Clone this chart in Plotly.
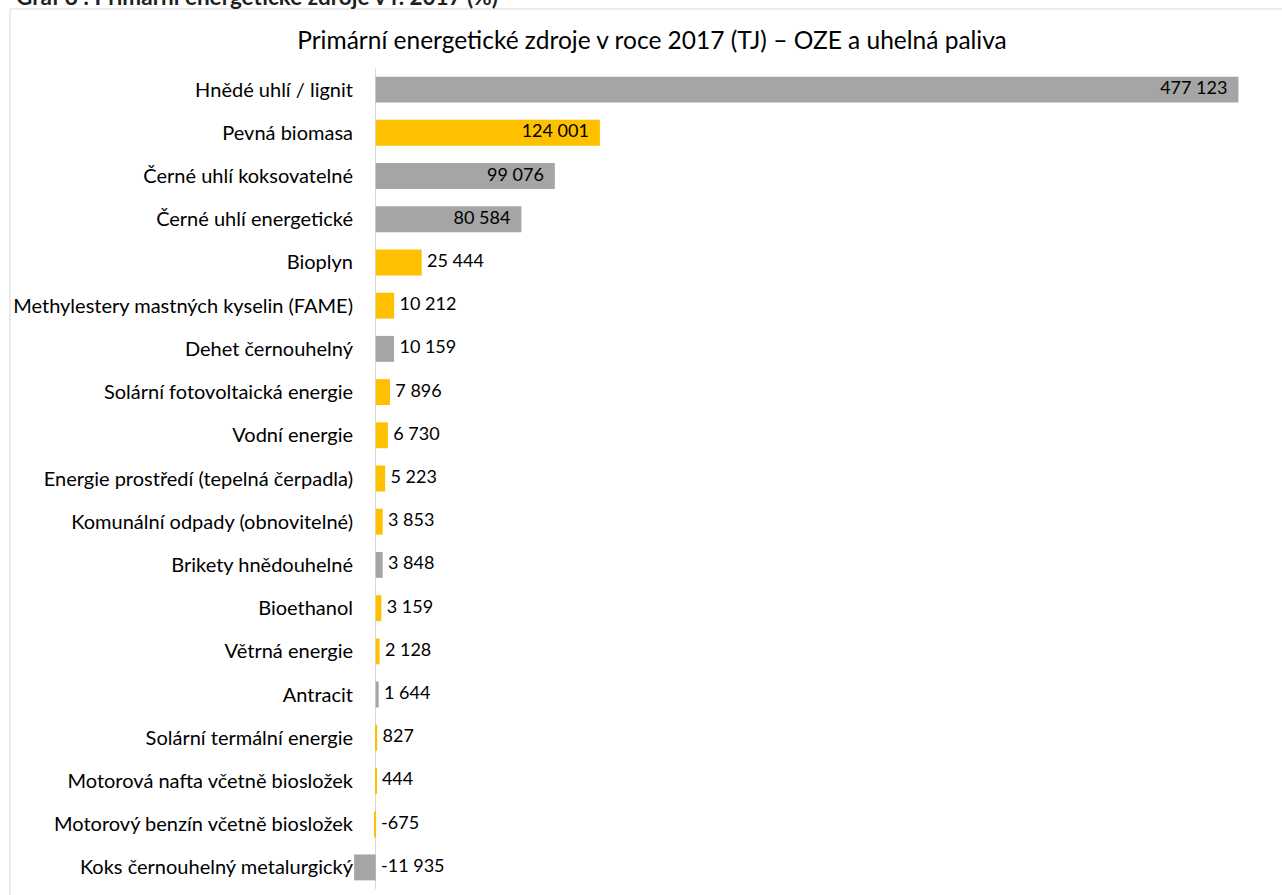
import plotly.graph_objects as go

categories = [
    "Hnědé uhlí / lignit",
    "Pevná biomasa",
    "Černé uhlí koksovatelné",
    "Černé uhlí energetické",
    "Bioplyn",
    "Methylestery mastných kyselin (FAME)",
    "Dehet černouhelný",
    "Solární fotovoltaická energie",
    "Vodní energie",
    "Energie prostředí (tepelná čerpadla)",
    "Komunální odpady (obnovitelné)",
    "Brikety hnědouhelné",
    "Bioethanol",
    "Větrná energie",
    "Antracit",
    "Solární termální energie",
    "Motorová nafta včetně biosložek",
    "Motorový benzín včetně biosložek",
    "Koks černouhelný metalurgický",
]
values = [477123, 124001, 99076, 80584, 25444, 10212, 10159, 7896, 6730, 5223,
          3853, 3848, 3159, 2128, 1644, 827, 444, -675, -11935]
groups = ["uhli", "oze", "uhli", "uhli", "oze", "oze", "uhli", "oze", "oze", "oze",
          "oze", "uhli", "oze", "oze", "uhli", "oze", "oze", "oze", "uhli"]
colors_map = {"uhli": "#A5A5A5", "oze": "#FFC000"}
inside_threshold = 50000

title = "Primární energetické zdroje v roce 2017 (TJ) – OZE a uhelná paliva"
caption = "Graf 8 : Primární energetické zdroje v r. 2017 (%)"

FONT = "Lato"
LBL = 20
VAL = 18

def fmt(v):
    s = f"{abs(v):,}".replace(",", " ")
    return ("-" if v < 0 else "") + s

labels = [fmt(v) for v in values]
colors = [colors_map[g] for g in groups]

W, H = 1282, 895
L, R, T, B = 354, 1240, 68, 889
pw, ph = R - L, B - T

def px_x(p):
    return (p - L) / pw

def px_y(p):
    return (B - p) / ph

fig = go.Figure()
fig.add_trace(go.Bar(
    y=categories, x=values, orientation="h",
    marker=dict(color=colors, line=dict(width=0)),
    width=0.6, hoverinfo="skip", showlegend=False,
))
ins = [v > inside_threshold for v in values]
fig.add_trace(go.Scatter(
    x=[v for v, i in zip(values, ins) if i],
    y=[c for c, i in zip(categories, ins) if i],
    text=[t for t, i in zip(labels, ins) if i],
    mode="markers+text", textposition="middle left",
    marker=dict(size=16, opacity=0),
    textfont=dict(family=FONT, size=VAL, color="#000000"),
    hoverinfo="skip", showlegend=False, cliponaxis=False,
))
fig.add_trace(go.Scatter(
    x=[max(v, 0) for v, i in zip(values, ins) if not i],
    y=[c for c, i in zip(categories, ins) if not i],
    text=[t for t, i in zip(labels, ins) if not i],
    mode="markers+text", textposition="middle right",
    marker=dict(size=7, opacity=0),
    textfont=dict(family=FONT, size=VAL, color="#000000"),
    hoverinfo="skip", showlegend=False, cliponaxis=False,
))

fig.update_layout(
    width=W, height=H,
    margin=dict(l=L, r=W - R, t=T, b=H - B, autoexpand=False),
    paper_bgcolor="white", plot_bgcolor="white",
    font=dict(family=FONT, size=LBL, color="#000000"),
    title=dict(text=title, xref="container", x=652 / W, xanchor="center",
               yref="container", y=1 - 40 / H, yanchor="middle",
               font=dict(family=FONT, size=24.5, color="#000000")),
    xaxis=dict(range=[-12000, 478000], showgrid=False, showticklabels=False,
               zeroline=True, zerolinecolor="#D9D9D9", zerolinewidth=1,
               ticks="", showline=False, fixedrange=True),
    yaxis=dict(range=[len(categories) - 0.5, -0.5], showgrid=False, ticks="",
               showline=False, automargin=False,
               tickfont=dict(family=FONT, size=LBL, color="#000000"),
               ticklabelstandoff=0, fixedrange=True),
    bargap=0.4,
    shapes=[dict(type="rect", xref="paper", yref="paper",
                 x0=px_x(10), x1=px_x(1300), y0=px_y(9), y1=px_y(920),
                 line=dict(color="#D9D9D9", width=1), fillcolor="rgba(0,0,0,0)",
                 layer="below")],
    annotations=[dict(text="<b>" + caption + "</b>", xref="paper", yref="paper",
                      x=px_x(14), y=px_y(12), xanchor="left", yanchor="bottom",
                      showarrow=False,
                      font=dict(family=FONT, size=22.5, color="#1F1F1F"))],
)

fig.write_html("out.html", config={"displayModeBar": False},
               post_script="document.body.style.margin='0px';")
